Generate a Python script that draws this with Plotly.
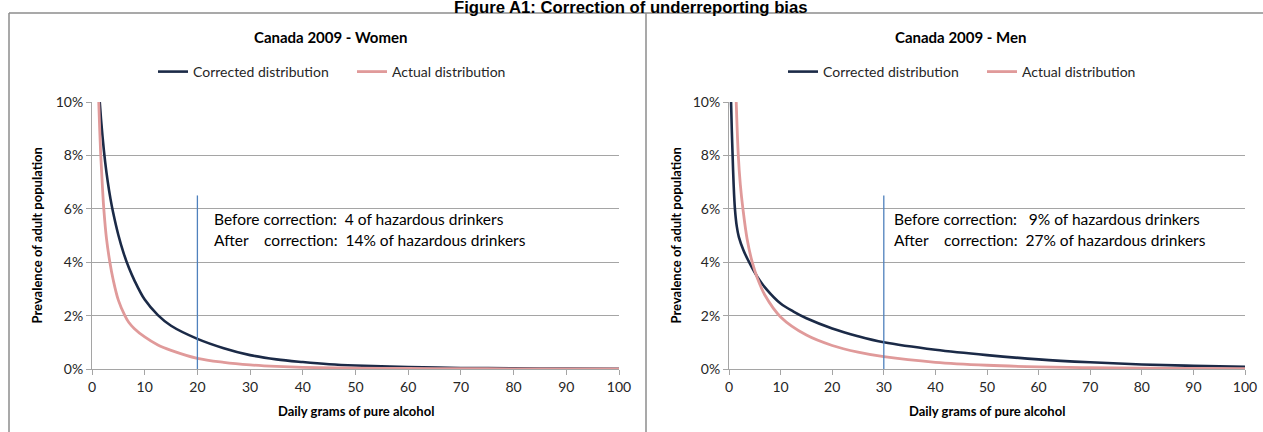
import plotly.graph_objects as go

W, H = 1263, 432

# ---------------- data (values in % of adult population) ----------------
women_corr_x = [1.2, 1.47, 2.0, 2.5, 3.0, 3.5, 4.0, 5.0, 6.0, 7.0, 8.0, 10.0, 12.5, 15.0, 20.0,
                25.0, 30.0, 35.0, 40.0, 45.0, 50.0, 60.0, 70.0, 80.0, 90.0, 100.0]
women_corr_y = [11.0, 10.0, 8.7, 7.75, 7.0, 6.38, 5.87, 5.02, 4.34, 3.79, 3.34, 2.6, 2.02, 1.62, 1.13,
                0.78, 0.52, 0.36, 0.26, 0.18, 0.13, 0.07, 0.04, 0.025, 0.015, 0.01]

women_act_x = [1.1, 1.28, 1.66, 2.0, 2.24, 2.75, 3.39, 4.0, 5.0, 6.26, 7.0, 8.0, 10.0, 12.5, 15.0,
               20.0, 25.0, 30.0, 35.0, 40.0, 50.0, 60.0, 70.0, 80.0, 90.0, 100.0]
women_act_y = [11.3, 10.0, 8.0, 6.75, 6.0, 4.88, 4.0, 3.36, 2.58, 1.99, 1.74, 1.52, 1.2, 0.9, 0.7,
               0.4, 0.25, 0.155, 0.097, 0.06, 0.03, 0.018, 0.012, 0.008, 0.006, 0.005]

men_corr_x = [0.3, 0.4, 0.55, 0.7, 0.9, 1.15, 1.5, 1.9, 2.8, 3.9, 5.5, 7.2, 10.0, 12.5, 15.0, 20.0,
              25.0, 30.0, 40.0, 50.0, 60.0, 70.0, 80.0, 90.0, 100.0]
men_corr_y = [11.3, 10.0, 8.9, 8.0, 6.9, 6.0, 5.35, 4.95, 4.45, 4.0, 3.45, 3.0, 2.45, 2.15, 1.9, 1.52,
              1.23, 1.0, 0.72, 0.52, 0.36, 0.25, 0.17, 0.12, 0.08]

men_act_x = [1.2, 1.4, 1.8, 2.2, 2.7, 3.5, 4.5, 5.5, 7.0, 10.0, 15.0, 20.0, 25.0, 30.0,
             40.0, 50.0, 60.0, 70.0, 80.0, 90.0, 100.0]
men_act_y = [11.3, 10.0, 8.0, 6.9, 6.0, 4.88, 4.0, 3.4, 2.75, 1.95, 1.27, 0.88, 0.63, 0.46,
             0.25, 0.14, 0.08, 0.05, 0.03, 0.02, 0.01]

women_threshold = 20
men_threshold = 30
marker_top = 6.5

x_ticks = [0, 10, 20, 30, 40, 50, 60, 70, 80, 90, 100]
y_ticks = [0, 2, 4, 6, 8, 10]
y_tick_labels = ["0%", "2%", "4%", "6%", "8%", "10%"]

series_names = ["Corrected distribution", "Actual distribution"]
panel_titles = ["Canada 2009 - Women", "Canada 2009 - Men"]
main_title = "Figure A1: Correction of underreporting bias"
y_title = "Prevalence of adult population"
x_title = "Daily grams of pure alcohol"
NB = "\u00a0"
women_note = ["Before correction:" + NB * 2 + "4 of hazardous drinkers",
              "After" + NB * 4 + "correction:" + NB * 2 + "14% of hazardous drinkers"]
men_note = ["Before correction:" + NB * 3 + "9% of hazardous drinkers",
            "After" + NB * 4 + "correction:" + NB * 2 + "27% of hazardous drinkers"]

# ---------------- styles ----------------
NAVY = "#1B2A47"
PINK = "#E09A9A"
BLUE = "#4F81BD"
GRID = "#A5A5A5"
FONT = "Lato"
TXT = "#262626"


def px_x(p):
    return p / W


def px_y(p):
    return 1 - p / H


fig = go.Figure()

panels = [
    dict(xa="x", ya="y", cx=women_corr_x, cy=women_corr_y, ax_=women_act_x, ay=women_act_y,
         thr=women_threshold, legend="legend"),
    dict(xa="x2", ya="y2", cx=men_corr_x, cy=men_corr_y, ax_=men_act_x, ay=men_act_y,
         thr=men_threshold, legend="legend2"),
]

for p in panels:
    fig.add_trace(go.Scatter(x=p["cx"], y=p["cy"], mode="lines", name=series_names[0],
                             line=dict(color=NAVY, width=2.6, shape="spline", smoothing=1.0),
                             xaxis=p["xa"], yaxis=p["ya"], legend=p["legend"]))
    fig.add_trace(go.Scatter(x=p["ax_"], y=p["ay"], mode="lines", name=series_names[1],
                             line=dict(color=PINK, width=2.8, shape="spline", smoothing=1.0),
                             xaxis=p["xa"], yaxis=p["ya"], legend=p["legend"]))
    fig.add_trace(go.Scatter(x=[p["thr"], p["thr"]], y=[0, marker_top], mode="lines",
                             line=dict(color=BLUE, width=1.3), showlegend=False,
                             xaxis=p["xa"], yaxis=p["ya"], hoverinfo="skip"))

# plot area pixel geometry
L1, R1 = 92, 619
L2, R2 = 729, 1245
TOP, BOT = 102, 369

axis_common = dict(showline=True, linecolor=GRID, linewidth=1, ticks="outside",
                   ticklen=5, tickcolor=GRID, tickfont=dict(family=FONT, size=14, color=TXT),
                   zeroline=False, automargin=False)

fig.update_layout(
    width=W, height=H,
    margin=dict(l=0, r=0, t=0, b=0, pad=0, autoexpand=False),
    paper_bgcolor="white", plot_bgcolor="white",
    font=dict(family=FONT, color=TXT),
    xaxis=dict(domain=[px_x(L1), px_x(R1)], range=[0, 100], tickvals=x_ticks,
               showgrid=False, anchor="y", **axis_common),
    yaxis=dict(domain=[px_y(BOT), px_y(TOP)], range=[0, 10], tickvals=y_ticks,
               ticktext=y_tick_labels, showgrid=True, gridcolor=GRID, gridwidth=1, anchor="x",
               **axis_common),
    xaxis2=dict(domain=[px_x(L2), px_x(R2)], range=[0, 100], tickvals=x_ticks,
                showgrid=False, anchor="y2", **axis_common),
    yaxis2=dict(domain=[px_y(BOT), px_y(TOP)], range=[0, 10], tickvals=y_ticks,
                ticktext=y_tick_labels, showgrid=True, gridcolor=GRID, gridwidth=1, anchor="x2",
                **axis_common),
    legend=dict(orientation="h", x=px_x(153), y=px_y(72), xanchor="left", yanchor="middle",
                font=dict(family=FONT, size=14, color=TXT), bgcolor="rgba(0,0,0,0)",
                entrywidth=154, itemwidth=30, tracegroupgap=0),
    legend2=dict(orientation="h", x=px_x(783), y=px_y(72), xanchor="left", yanchor="middle",
                 font=dict(family=FONT, size=14, color=TXT), bgcolor="rgba(0,0,0,0)",
                 entrywidth=154, itemwidth=30, tracegroupgap=0),
    showlegend=True,
)

# frame around the two chart panels
frame = dict(type="line", xref="paper", yref="paper", line=dict(color="#8C8C8C", width=1.5))
fig.add_shape(**frame, x0=px_x(9), x1=1.0, y0=px_y(13), y1=px_y(13))
fig.add_shape(**frame, x0=px_x(9), x1=px_x(9), y0=px_y(13), y1=0)
fig.add_shape(**frame, x0=px_x(646), x1=px_x(646), y0=px_y(13), y1=0)

ann = []
ann.append(dict(text="<b>" + main_title + "</b>", x=px_x(631), y=px_y(8), xref="paper", yref="paper",
                xanchor="center", yanchor="middle", showarrow=False,
                font=dict(family="Liberation Sans", size=16.7, color="black")))
for title, cx in zip(panel_titles, [330, 960]):
    ann.append(dict(text="<b>" + title + "</b>", x=px_x(cx), y=px_y(37), xref="paper", yref="paper",
                    xanchor="center", yanchor="middle", showarrow=False,
                    font=dict(family=FONT, size=15, color="black")))
for cx in [(L1 + R1) / 2, (L2 + R2) / 2]:
    ann.append(dict(text="<b>" + x_title + "</b>", x=px_x(cx), y=px_y(411), xref="paper", yref="paper",
                    xanchor="center", yanchor="middle", showarrow=False,
                    font=dict(family=FONT, size=13, color="black")))
for cx in [37, 676]:
    ann.append(dict(text="<b>" + y_title + "</b>", x=px_x(cx), y=px_y((TOP + BOT) / 2),
                    xref="paper", yref="paper", textangle=-90,
                    xanchor="center", yanchor="middle", showarrow=False,
                    font=dict(family=FONT, size=13, color="black")))
for note, (xr, yr, x0) in zip([women_note, men_note], [("x", "y", 22.8), ("x2", "y2", 31.6)]):
    for i, line in enumerate(note):
        ann.append(dict(text=line, x=x0, y=5.6 - 0.75 * i, xref=xr, yref=yr,
                        xanchor="left", yanchor="middle", showarrow=False,
                        font=dict(family=FONT, size=15.5, color="black")))
fig.update_layout(annotations=ann)

fig.write_html("out.html", config={"displayModeBar": False},
               post_script="document.body.style.margin='0px';")
